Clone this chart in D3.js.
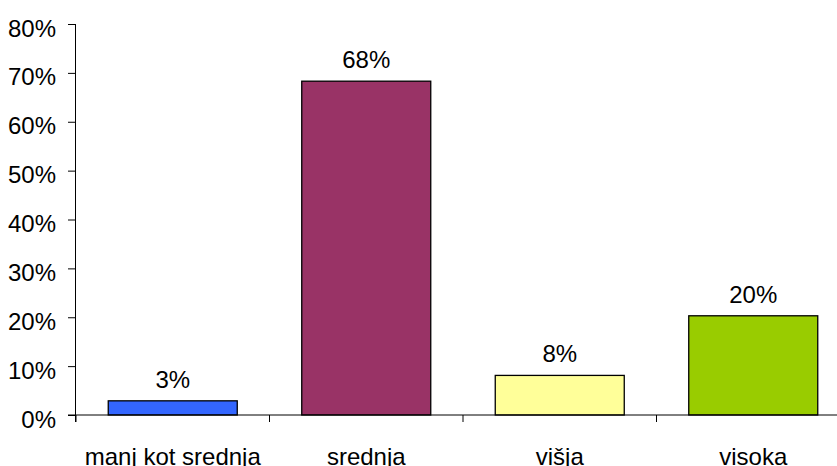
<!DOCTYPE html>
<html><head><meta charset="utf-8">
<script src="https://cdn.jsdelivr.net/npm/d3@7"></script>
<style>body{margin:0;background:#fff;overflow:hidden}svg{display:block}text{font-family:"Liberation Sans",Arial,sans-serif;fill:#000}</style>
</head><body>
<script>
const categories = ["manj kot srednja", "srednja", "višja", "visoka"];
const values = [2.9, 68.3, 8.1, 20.3];
const valueLabels = ["3%", "68%", "8%", "20%"];
const colors = ["#3366FF", "#993366", "#FFFF99", "#99CC00"];
const yTicks = [0, 10, 20, 30, 40, 50, 60, 70, 80];

const W = 837, H = 466;
const m = {left: 76, top: 24, bottom: 51};
const plotW = 774;
const svg = d3.select("body").append("svg").attr("width", W).attr("height", H);
const x = d3.scaleBand().domain(categories).range([m.left, m.left + plotW]).paddingInner(1/3).paddingOuter(1/6);
const y = d3.scaleLinear().domain([0, 80]).range([H - m.bottom, m.top]);
const FONT = 24;

// y axis
const ya = svg.append("g").attr("transform", `translate(${m.left},0)`)
  .call(d3.axisLeft(y).tickValues(yTicks).tickSize(8).tickPadding(12).tickFormat(d => d + "%"));
ya.select(".domain").attr("stroke", "#000").attr("d", `M-0.5,${y(80)}V${y(0)+7}`);
ya.selectAll(".tick line").attr("stroke", "#000");
ya.selectAll(".tick text").attr("font-size", FONT).attr("dy", "0.5em").style("font-family", '"Liberation Sans",Arial,sans-serif');

// bars
svg.selectAll("rect.bar").data(categories).enter().append("rect")
  .attr("x", d => x(d)).attr("width", x.bandwidth())
  .attr("y", (d, i) => y(values[i])).attr("height", (d, i) => y(0) - y(values[i]))
  .attr("fill", (d, i) => colors[i]).attr("stroke", "#000").attr("stroke-width", 1.3);

// x axis
const step = x.step();
const xa = svg.append("g").attr("transform", `translate(0,${y(0)})`);
xa.append("line").attr("x1", m.left - 8).attr("x2", m.left + plotW).attr("stroke", "#000");
const boundaries = d3.range(categories.length).map(i => m.left + i * step);
xa.selectAll("line.t").data(boundaries).enter().append("line")
  .attr("x1", d => d).attr("x2", d => d).attr("y1", 0).attr("y2", 7).attr("stroke", "#000");
xa.selectAll("text").data(categories).enter().append("text")
  .attr("x", d => x(d) + x.bandwidth() / 2).attr("y", 50)
  .attr("text-anchor", "middle").attr("font-size", FONT).text(d => d);

// value labels
svg.selectAll("text.val").data(categories).enter().append("text")
  .attr("x", d => x(d) + x.bandwidth() / 2).attr("y", (d, i) => y(values[i]) - 13)
  .attr("text-anchor", "middle").attr("font-size", FONT).text((d, i) => valueLabels[i]);
</script>
</body></html>
